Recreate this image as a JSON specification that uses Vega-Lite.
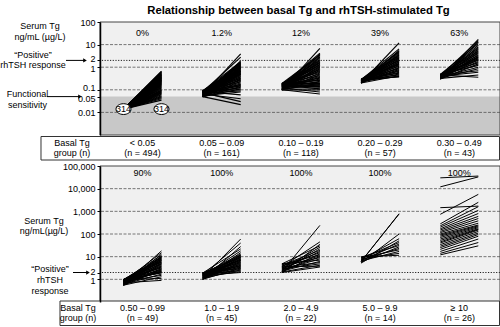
{
"$schema": "https://vega.github.io/schema/vega-lite/v6.json",
"width": 400, "height": 305,
"autosize": {"type": "none"},
"padding": {"left": 100, "top": 22, "right": 0, "bottom": 0},
"config": {"view": {"stroke": null}, "text": {"font": "Liberation Sans", "fontSize": 9, "fill": "#000"}},
"resolve": {"scale": {"y": "independent"}, "axis": {"y": "independent"}},
"datasets": {
"top": [
{"g":0,"b":0.014,"s":0.66},{"g":0,"b":0.014,"s":0.6},{"g":0,"b":0.014,"s":0.55},{"g":0,"b":0.014,"s":0.5},{"g":0,"b":0.014,"s":0.47},{"g":0,"b":0.014,"s":0.44},{"g":0,"b":0.014,"s":0.41},{"g":0,"b":0.014,"s":0.38},{"g":0,"b":0.014,"s":0.36},{"g":0,"b":0.014,"s":0.34},{"g":0,"b":0.014,"s":0.32},{"g":0,"b":0.014,"s":0.3},{"g":0,"b":0.014,"s":0.28},{"g":0,"b":0.014,"s":0.27},{"g":0,"b":0.014,"s":0.25},{"g":0,"b":0.014,"s":0.24},{"g":0,"b":0.014,"s":0.22},{"g":0,"b":0.014,"s":0.21},{"g":0,"b":0.014,"s":0.2},{"g":0,"b":0.014,"s":0.19},{"g":0,"b":0.014,"s":0.18},{"g":0,"b":0.014,"s":0.17},{"g":0,"b":0.014,"s":0.16},{"g":0,"b":0.014,"s":0.15},{"g":0,"b":0.014,"s":0.14},{"g":0,"b":0.014,"s":0.13},{"g":0,"b":0.014,"s":0.12},{"g":0,"b":0.014,"s":0.11},{"g":0,"b":0.014,"s":0.1},{"g":0,"b":0.014,"s":0.095},{"g":0,"b":0.014,"s":0.09},{"g":0,"b":0.014,"s":0.085},{"g":0,"b":0.014,"s":0.08},{"g":0,"b":0.014,"s":0.075},{"g":0,"b":0.014,"s":0.07},{"g":0,"b":0.014,"s":0.065},{"g":0,"b":0.014,"s":0.06},{"g":0,"b":0.014,"s":0.055},{"g":0,"b":0.014,"s":0.05},{"g":0,"b":0.014,"s":0.045},{"g":0,"b":0.014,"s":0.04},{"g":0,"b":0.014,"s":0.035},{"g":0,"b":0.014,"s":0.63},{"g":0,"b":0.014,"s":0.52},{"g":0,"b":0.014,"s":0.45},{"g":0,"b":0.014,"s":0.39},{"g":0,"b":0.014,"s":0.33},{"g":0,"b":0.014,"s":0.29},{"g":0,"b":0.014,"s":0.26},{"g":0,"b":0.014,"s":0.23},
{"g":1,"b":0.06,"s":3.9},{"g":1,"b":0.08,"s":2.8},{"g":1,"b":0.05,"s":1.9},{"g":1,"b":0.09,"s":1.7},{"g":1,"b":0.07,"s":1.55},{"g":1,"b":0.055,"s":1.45},{"g":1,"b":0.085,"s":1.35},{"g":1,"b":0.065,"s":1.25},{"g":1,"b":0.075,"s":1.15},{"g":1,"b":0.05,"s":1.05},{"g":1,"b":0.06,"s":1.0},{"g":1,"b":0.08,"s":0.95},{"g":1,"b":0.05,"s":0.9},{"g":1,"b":0.09,"s":0.85},{"g":1,"b":0.07,"s":0.8},{"g":1,"b":0.055,"s":0.75},{"g":1,"b":0.085,"s":0.7},{"g":1,"b":0.065,"s":0.66},{"g":1,"b":0.075,"s":0.62},{"g":1,"b":0.05,"s":0.58},{"g":1,"b":0.06,"s":0.55},{"g":1,"b":0.08,"s":0.52},{"g":1,"b":0.05,"s":0.49},{"g":1,"b":0.09,"s":0.46},{"g":1,"b":0.07,"s":0.43},{"g":1,"b":0.055,"s":0.4},{"g":1,"b":0.085,"s":0.37},{"g":1,"b":0.065,"s":0.34},{"g":1,"b":0.075,"s":0.32},{"g":1,"b":0.05,"s":0.3},{"g":1,"b":0.06,"s":0.28},{"g":1,"b":0.08,"s":0.26},{"g":1,"b":0.05,"s":0.24},{"g":1,"b":0.09,"s":0.22},{"g":1,"b":0.07,"s":0.2},{"g":1,"b":0.055,"s":0.18},{"g":1,"b":0.085,"s":0.17},{"g":1,"b":0.065,"s":0.16},{"g":1,"b":0.075,"s":0.15},{"g":1,"b":0.05,"s":0.14},{"g":1,"b":0.06,"s":0.13},{"g":1,"b":0.08,"s":0.12},{"g":1,"b":0.05,"s":0.11},{"g":1,"b":0.09,"s":0.1},{"g":1,"b":0.07,"s":0.09},{"g":1,"b":0.055,"s":0.08},{"g":1,"b":0.085,"s":0.06},{"g":1,"b":0.065,"s":0.04},{"g":1,"b":0.075,"s":0.03},{"g":1,"b":0.05,"s":0.022},{"g":1,"b":0.07,"s":1.6},{"g":1,"b":0.06,"s":1.3},{"g":1,"b":0.08,"s":1.1},{"g":1,"b":0.09,"s":0.88},{"g":1,"b":0.055,"s":0.68},{"g":1,"b":0.075,"s":0.5},
{"g":2,"b":0.1,"s":6.8},{"g":2,"b":0.16,"s":4.2},{"g":2,"b":0.1,"s":3.8},{"g":2,"b":0.19,"s":3.4},{"g":2,"b":0.14,"s":3.0},{"g":2,"b":0.11,"s":2.6},{"g":2,"b":0.17,"s":2.2},{"g":2,"b":0.13,"s":1.9},{"g":2,"b":0.15,"s":1.7},{"g":2,"b":0.18,"s":1.5},{"g":2,"b":0.12,"s":1.35},{"g":2,"b":0.16,"s":1.2},{"g":2,"b":0.1,"s":1.1},{"g":2,"b":0.19,"s":1.0},{"g":2,"b":0.14,"s":0.92},{"g":2,"b":0.11,"s":0.85},{"g":2,"b":0.17,"s":0.78},{"g":2,"b":0.13,"s":0.72},{"g":2,"b":0.15,"s":0.66},{"g":2,"b":0.18,"s":0.6},{"g":2,"b":0.12,"s":0.55},{"g":2,"b":0.16,"s":0.5},{"g":2,"b":0.1,"s":0.46},{"g":2,"b":0.19,"s":0.42},{"g":2,"b":0.14,"s":0.39},{"g":2,"b":0.11,"s":0.36},{"g":2,"b":0.17,"s":0.33},{"g":2,"b":0.13,"s":0.3},{"g":2,"b":0.15,"s":0.28},{"g":2,"b":0.18,"s":0.26},{"g":2,"b":0.12,"s":0.24},{"g":2,"b":0.16,"s":0.22},{"g":2,"b":0.1,"s":0.2},{"g":2,"b":0.19,"s":0.19},{"g":2,"b":0.14,"s":0.18},{"g":2,"b":0.11,"s":0.17},{"g":2,"b":0.17,"s":0.16},{"g":2,"b":0.13,"s":0.15},{"g":2,"b":0.15,"s":0.14},{"g":2,"b":0.18,"s":0.13},{"g":2,"b":0.12,"s":0.12},{"g":2,"b":0.16,"s":0.11},{"g":2,"b":0.1,"s":0.1},{"g":2,"b":0.12,"s":0.08},{"g":2,"b":0.1,"s":0.065},{"g":2,"b":0.15,"s":3.6},{"g":2,"b":0.11,"s":2.8},{"g":2,"b":0.18,"s":2.0},{"g":2,"b":0.13,"s":1.6},{"g":2,"b":0.17,"s":1.28},
{"g":3,"b":0.2,"s":12},{"g":3,"b":0.27,"s":6.5},{"g":3,"b":0.2,"s":5.5},{"g":3,"b":0.25,"s":5.0},{"g":3,"b":0.29,"s":4.6},{"g":3,"b":0.23,"s":4.2},{"g":3,"b":0.21,"s":3.8},{"g":3,"b":0.26,"s":3.5},{"g":3,"b":0.24,"s":3.2},{"g":3,"b":0.28,"s":2.9},{"g":3,"b":0.22,"s":2.7},{"g":3,"b":0.27,"s":2.5},{"g":3,"b":0.2,"s":2.3},{"g":3,"b":0.25,"s":2.1},{"g":3,"b":0.29,"s":1.95},{"g":3,"b":0.23,"s":1.8},{"g":3,"b":0.21,"s":1.65},{"g":3,"b":0.26,"s":1.5},{"g":3,"b":0.24,"s":1.4},{"g":3,"b":0.28,"s":1.3},{"g":3,"b":0.22,"s":1.2},{"g":3,"b":0.27,"s":1.1},{"g":3,"b":0.2,"s":1.0},{"g":3,"b":0.25,"s":0.92},{"g":3,"b":0.29,"s":0.85},{"g":3,"b":0.23,"s":0.78},{"g":3,"b":0.21,"s":0.72},{"g":3,"b":0.26,"s":0.66},{"g":3,"b":0.24,"s":0.6},{"g":3,"b":0.28,"s":0.55},{"g":3,"b":0.22,"s":0.5},{"g":3,"b":0.27,"s":0.46},{"g":3,"b":0.2,"s":0.42},{"g":3,"b":0.25,"s":0.39},{"g":3,"b":0.29,"s":0.37},
{"g":4,"b":0.3,"s":17},{"g":4,"b":0.42,"s":15},{"g":4,"b":0.3,"s":13},{"g":4,"b":0.48,"s":11},{"g":4,"b":0.38,"s":9.5},{"g":4,"b":0.33,"s":8},{"g":4,"b":0.45,"s":7},{"g":4,"b":0.4,"s":6.2},{"g":4,"b":0.32,"s":5.5},{"g":4,"b":0.46,"s":5},{"g":4,"b":0.35,"s":4.5},{"g":4,"b":0.42,"s":4},{"g":4,"b":0.3,"s":3.6},{"g":4,"b":0.48,"s":3.3},{"g":4,"b":0.38,"s":3},{"g":4,"b":0.33,"s":2.8},{"g":4,"b":0.45,"s":2.6},{"g":4,"b":0.4,"s":2.4},{"g":4,"b":0.32,"s":2.2},{"g":4,"b":0.46,"s":2.05},{"g":4,"b":0.35,"s":1.8},{"g":4,"b":0.42,"s":1.6},{"g":4,"b":0.3,"s":1.4},{"g":4,"b":0.48,"s":1.2},{"g":4,"b":0.38,"s":1.0},{"g":4,"b":0.33,"s":0.85},{"g":4,"b":0.45,"s":0.7},{"g":4,"b":0.4,"s":0.6},{"g":4,"b":0.32,"s":0.45},{"g":4,"b":0.46,"s":0.36}
],
"bottom": [
{"g":0,"b":0.6,"s":18},{"g":0,"b":0.8,"s":15},{"g":0,"b":0.55,"s":13},{"g":0,"b":0.95,"s":11.5},{"g":0,"b":0.7,"s":10.5},{"g":0,"b":0.65,"s":10},{"g":0,"b":0.9,"s":9.8},{"g":0,"b":0.75,"s":9.5},{"g":0,"b":0.85,"s":9},{"g":0,"b":0.99,"s":8.8},{"g":0,"b":0.6,"s":8.5},{"g":0,"b":0.8,"s":8},{"g":0,"b":0.55,"s":7.8},{"g":0,"b":0.95,"s":7.5},{"g":0,"b":0.7,"s":7},{"g":0,"b":0.65,"s":6.8},{"g":0,"b":0.9,"s":6.6},{"g":0,"b":0.75,"s":6.2},{"g":0,"b":0.85,"s":5.8},{"g":0,"b":0.99,"s":5.6},{"g":0,"b":0.6,"s":5.4},{"g":0,"b":0.8,"s":5},{"g":0,"b":0.55,"s":4.8},{"g":0,"b":0.95,"s":4.7},{"g":0,"b":0.7,"s":4.4},{"g":0,"b":0.65,"s":4.1},{"g":0,"b":0.9,"s":3.8},{"g":0,"b":0.75,"s":3.6},{"g":0,"b":0.85,"s":3.4},{"g":0,"b":0.99,"s":3.2},{"g":0,"b":0.6,"s":3},{"g":0,"b":0.8,"s":2.85},{"g":0,"b":0.55,"s":2.7},{"g":0,"b":0.95,"s":2.55},{"g":0,"b":0.7,"s":2.4},{"g":0,"b":0.65,"s":2.3},{"g":0,"b":0.9,"s":2.2},{"g":0,"b":0.75,"s":2.1},{"g":0,"b":0.85,"s":2},{"g":0,"b":0.99,"s":1.9},{"g":0,"b":0.6,"s":1.7},{"g":0,"b":0.8,"s":1.5},{"g":0,"b":0.55,"s":1.3},{"g":0,"b":0.95,"s":1.1},{"g":0,"b":0.7,"s":0.9},
{"g":1,"b":1.2,"s":60},{"g":1,"b":1.6,"s":40},{"g":1,"b":1.0,"s":28},{"g":1,"b":1.9,"s":22},{"g":1,"b":1.4,"s":18},{"g":1,"b":1.1,"s":15},{"g":1,"b":1.7,"s":13},{"g":1,"b":1.3,"s":12},{"g":1,"b":1.5,"s":11.5},{"g":1,"b":1.8,"s":11},{"g":1,"b":1.2,"s":10.5},{"g":1,"b":1.6,"s":10},{"g":1,"b":1.0,"s":9.5},{"g":1,"b":1.9,"s":9},{"g":1,"b":1.4,"s":8.5},{"g":1,"b":1.1,"s":8},{"g":1,"b":1.7,"s":7.6},{"g":1,"b":1.3,"s":7.2},{"g":1,"b":1.5,"s":7},{"g":1,"b":1.8,"s":6.8},{"g":1,"b":1.2,"s":6.4},{"g":1,"b":1.6,"s":6},{"g":1,"b":1.0,"s":5.7},{"g":1,"b":1.9,"s":5.4},{"g":1,"b":1.4,"s":5.1},{"g":1,"b":1.1,"s":4.8},{"g":1,"b":1.7,"s":4.5},{"g":1,"b":1.3,"s":4.2},{"g":1,"b":1.5,"s":4},{"g":1,"b":1.8,"s":3.8},{"g":1,"b":1.2,"s":3.6},{"g":1,"b":1.6,"s":3.4},{"g":1,"b":1.0,"s":3.2},{"g":1,"b":1.9,"s":3},{"g":1,"b":1.4,"s":2.8},{"g":1,"b":1.1,"s":2.6},{"g":1,"b":1.7,"s":2.4},{"g":1,"b":1.3,"s":2.2},{"g":1,"b":1.5,"s":2},{"g":1,"b":1.8,"s":9.2},
{"g":2,"b":2.2,"s":240},{"g":2,"b":3.5,"s":45},{"g":2,"b":2.0,"s":35},{"g":2,"b":4.8,"s":30},{"g":2,"b":3.0,"s":26},{"g":2,"b":2.5,"s":22},{"g":2,"b":4.2,"s":19},{"g":2,"b":2.8,"s":17},{"g":2,"b":3.8,"s":15},{"g":2,"b":2.1,"s":13.5},{"g":2,"b":4.5,"s":12},{"g":2,"b":3.2,"s":11},{"g":2,"b":2.4,"s":10},{"g":2,"b":3.9,"s":9},{"g":2,"b":2.6,"s":8},{"g":2,"b":4.9,"s":7},{"g":2,"b":2.3,"s":6.2},{"g":2,"b":3.4,"s":5.5},{"g":2,"b":2.9,"s":4.8},{"g":2,"b":2.1,"s":4.2},{"g":2,"b":3.6,"s":3.8},{"g":2,"b":2.0,"s":3.5},
{"g":3,"b":6.0,"s":790},{"g":3,"b":6.2,"s":760},{"g":3,"b":5.5,"s":100},{"g":3,"b":7.5,"s":62},{"g":3,"b":5.2,"s":50},{"g":3,"b":8.5,"s":42},{"g":3,"b":6.8,"s":36},{"g":3,"b":9.5,"s":31},{"g":3,"b":5.8,"s":27},{"g":3,"b":7.2,"s":23},{"g":3,"b":9.0,"s":20},{"g":3,"b":6.5,"s":17},{"g":3,"b":8.0,"s":14},{"g":3,"b":9.9,"s":11.5},
{"g":4,"b":12000,"s":33000},{"g":4,"b":30000,"s":36000},{"g":4,"b":740,"s":5600},{"g":4,"b":1450,"s":1700},{"g":4,"b":280,"s":2500},{"g":4,"b":230,"s":1600},{"g":4,"b":200,"s":1100},{"g":4,"b":170,"s":800},{"g":4,"b":150,"s":600},{"g":4,"b":130,"s":480},{"g":4,"b":115,"s":380},{"g":4,"b":100,"s":300},{"g":4,"b":90,"s":250},{"g":4,"b":80,"s":230},{"g":4,"b":70,"s":210},{"g":4,"b":60,"s":190},{"g":4,"b":52,"s":170},{"g":4,"b":45,"s":160},{"g":4,"b":40,"s":150},{"g":4,"b":34,"s":130},{"g":4,"b":29,"s":110},{"g":4,"b":25,"s":95},{"g":4,"b":21,"s":80},{"g":4,"b":17,"s":60},{"g":4,"b":14,"s":42},{"g":4,"b":12,"s":30}
],
"groupsTop": [
{"g":0,"pct":"0%","range":"< 0.05","n":"(n = 494)"},
{"g":1,"pct":"1.2%","range":"0.05 – 0.09","n":"(n = 161)"},
{"g":2,"pct":"12%","range":"0.10 – 0.19","n":"(n = 118)"},
{"g":3,"pct":"39%","range":"0.20 – 0.29","n":"(n = 57)"},
{"g":4,"pct":"63%","range":"0.30 – 0.49","n":"(n = 43)"}
],
"groupsBottom": [
{"g":0,"pct":"90%","range":"0.50 – 0.99","n":"(n = 49)"},
{"g":1,"pct":"100%","range":"1.0 – 1.9","n":"(n = 45)"},
{"g":2,"pct":"100%","range":"2.0 – 4.9","n":"(n = 22)"},
{"g":3,"pct":"100%","range":"5.0 – 9.9","n":"(n = 14)"},
{"g":4,"pct":"100%","range":"≥ 10","n":"(n = 26)"}
],
"undetectable": [{"g":0,"b":0.014,"s":0.014,"count":"314"}]
},
"layer": [
{"data":{"values":[{}]},"mark":{"type":"rect","fill":"#f0f0f0"},
 "encoding":{"x":{"datum":-0.2967,"type":"quantitative","scale":{"domain":[-0.2967,4.7538],"nice":false,"zero":false},"axis":null},"x2":{"datum":4.7538},
 "y":{"datum":100,"type":"quantitative","scale":{"type":"log","domain":[0.001,100],"range":[113,0]},"axis":null},"y2":{"datum":0.001}}},
{"data":{"values":[{}]},"mark":{"type":"rect","fill":"#c8c8c8"},
 "encoding":{"x":{"datum":-0.2967,"type":"quantitative","scale":{"domain":[-0.2967,4.7538],"nice":false,"zero":false},"axis":null},"x2":{"datum":4.7538},
 "y":{"datum":0.05,"type":"quantitative","scale":{"type":"log","domain":[0.001,100],"range":[113,0]},"axis":null},"y2":{"datum":0.001}}},
{"data":{"values":[{"v":10},{"v":1},{"v":0.1},{"v":0.01}]},"mark":{"type":"rule","stroke":"#555","strokeWidth":0.8,"strokeDash":[3,1.5]},
 "encoding":{"y":{"field":"v","type":"quantitative","scale":{"type":"log","domain":[0.001,100],"range":[113,0]},"axis":null}}},
{"data":{"values":[{"v":2}]},"mark":{"type":"rule","stroke":"#222","strokeWidth":1,"strokeDash":[1.2,1.5]},
 "encoding":{"y":{"field":"v","type":"quantitative","scale":{"type":"log","domain":[0.001,100],"range":[113,0]},"axis":null}}},
{"data":{"name":"top"},"mark":{"type":"rule","stroke":"#000","strokeWidth":1.15,"x2Offset":38},
 "encoding":{"x":{"field":"g","type":"quantitative","scale":{"domain":[-0.2967,4.7538],"nice":false,"zero":false},"axis":null},"x2":{"field":"g"},
 "y":{"field":"b","type":"quantitative","scale":{"type":"log","domain":[0.001,100],"range":[113,0]},"axis":null},"y2":{"field":"s"}}},
{"data":{"name":"undetectable"},"mark":{"type":"point","shape":"M-1,0A1,0.72,0,1,1,1,0A1,0.72,0,1,1,-1,0Z","size":225,"filled":true,"fill":"#fff","stroke":"#000","strokeWidth":1,"opacity":1},
 "encoding":{"x":{"field":"g","type":"quantitative","scale":{"domain":[-0.2967,4.7538],"nice":false,"zero":false},"axis":null},
 "y":{"field":"b","type":"quantitative","scale":{"type":"log","domain":[0.001,100],"range":[113,0]},"axis":null}}},
{"data":{"name":"undetectable"},"mark":{"type":"point","shape":"M-1,0A1,0.72,0,1,1,1,0A1,0.72,0,1,1,-1,0Z","size":225,"filled":true,"fill":"#fff","stroke":"#000","strokeWidth":1,"opacity":1,"xOffset":38},
 "encoding":{"x":{"field":"g","type":"quantitative","scale":{"domain":[-0.2967,4.7538],"nice":false,"zero":false},"axis":null},
 "y":{"field":"s","type":"quantitative","scale":{"type":"log","domain":[0.001,100],"range":[113,0]},"axis":null}}},
{"data":{"name":"undetectable"},"mark":{"type":"text","align":"center","baseline":"middle","fontSize":9},
 "encoding":{"text":{"field":"count"},"x":{"field":"g","type":"quantitative","scale":{"domain":[-0.2967,4.7538],"nice":false,"zero":false},"axis":null},
 "y":{"field":"b","type":"quantitative","scale":{"type":"log","domain":[0.001,100],"range":[113,0]},"axis":null}}},
{"data":{"name":"undetectable"},"mark":{"type":"text","align":"center","baseline":"middle","fontSize":9,"dx":38},
 "encoding":{"text":{"field":"count"},"x":{"field":"g","type":"quantitative","scale":{"domain":[-0.2967,4.7538],"nice":false,"zero":false},"axis":null},
 "y":{"field":"s","type":"quantitative","scale":{"type":"log","domain":[0.001,100],"range":[113,0]},"axis":null}}},
{"data":{"name":"groupsTop"},"mark":{"type":"text","align":"center","baseline":"middle","dx":19},
 "encoding":{"text":{"field":"pct"},"x":{"field":"g","type":"quantitative","scale":{"domain":[-0.2967,4.7538],"nice":false,"zero":false},"axis":null},
 "y":{"datum":32,"type":"quantitative","scale":{"type":"log","domain":[0.001,100],"range":[113,0]},"axis":null}}},
{"data":{"values":[{}]},"mark":{"type":"rect","filled":false,"stroke":"#444","strokeWidth":1},
 "encoding":{"x":{"datum":-0.2967,"type":"quantitative","scale":{"domain":[-0.2967,4.7538],"nice":false,"zero":false},"axis":null},"x2":{"datum":4.7538},
 "y":{"datum":100,"type":"quantitative","scale":{"type":"log","domain":[0.001,100],"range":[113,0]},
  "axis":{"orient":"left","values":[100,10,2,1,0.1,0.05,0.01],"format":"~g","grid":false,"title":null,"labelFont":"Liberation Sans","labelFontSize":9,"labelColor":"#000","tickColor":"#000","tickSize":3,"domainColor":"#000","domainWidth":1.5,"labelPadding":2,"zindex":1,"labelOverlap":false,"labelBound":false,"labelFlush":false,
   "labelOffset":{"condition":[{"test":"datum.value == 0.1","value":-2},{"test":"datum.value == 0.05","value":1.5},{"test":"datum.value == 2","value":-1.6},{"test":"datum.value == 1","value":0.8}],"value":0}}},
 "y2":{"datum":0.001}}},
{"data":{"values":[{}]},"mark":{"type":"rect","fill":"#fff","stroke":"#333","strokeWidth":1},
 "encoding":{"x":{"datum":-1.0417,"type":"quantitative","scale":{"domain":[-0.2967,4.7538],"nice":false,"zero":false},"axis":null},"x2":{"datum":4.7475},
 "y":{"datum":0,"type":"quantitative","scale":{"domain":[0,1],"range":[114.5,138],"nice":false,"zero":false},"axis":null},"y2":{"datum":1}}},
{"data":{"values":[{}]},"mark":{"type":"text","text":"Basal Tg","align":"center","baseline":"middle"},
 "encoding":{"x":{"datum":-0.65,"type":"quantitative","scale":{"domain":[-0.2967,4.7538],"nice":false,"zero":false},"axis":null},
 "y":{"datum":0.28,"type":"quantitative","scale":{"domain":[0,1],"range":[114.5,138],"nice":false,"zero":false},"axis":null}}},
{"data":{"values":[{}]},"mark":{"type":"text","text":"group (n)","align":"center","baseline":"middle"},
 "encoding":{"x":{"datum":-0.65,"type":"quantitative","scale":{"domain":[-0.2967,4.7538],"nice":false,"zero":false},"axis":null},
 "y":{"datum":0.7,"type":"quantitative","scale":{"domain":[0,1],"range":[114.5,138],"nice":false,"zero":false},"axis":null}}},
{"data":{"name":"groupsTop"},"mark":{"type":"text","align":"center","baseline":"middle","dx":19},
 "encoding":{"text":{"field":"range"},"x":{"field":"g","type":"quantitative","scale":{"domain":[-0.2967,4.7538],"nice":false,"zero":false},"axis":null},
 "y":{"datum":0.28,"type":"quantitative","scale":{"domain":[0,1],"range":[114.5,138],"nice":false,"zero":false},"axis":null}}},
{"data":{"name":"groupsTop"},"mark":{"type":"text","align":"center","baseline":"middle","dx":19},
 "encoding":{"text":{"field":"n"},"x":{"field":"g","type":"quantitative","scale":{"domain":[-0.2967,4.7538],"nice":false,"zero":false},"axis":null},
 "y":{"datum":0.7,"type":"quantitative","scale":{"domain":[0,1],"range":[114.5,138],"nice":false,"zero":false},"axis":null}}},
{"data":{"values":[{}]},"mark":{"type":"rect","fill":"#f0f0f0"},
 "encoding":{"x":{"datum":-0.2967,"type":"quantitative","scale":{"domain":[-0.2967,4.7538],"nice":false,"zero":false},"axis":null},"x2":{"datum":4.7538},
 "y":{"datum":100000,"type":"quantitative","scale":{"type":"log","domain":[0.1,100000],"range":[280,144]},"axis":null},"y2":{"datum":0.1}}},
{"data":{"values":[{"v":10000},{"v":1000},{"v":100},{"v":10},{"v":1}]},"mark":{"type":"rule","stroke":"#555","strokeWidth":0.8,"strokeDash":[3,1.5]},
 "encoding":{"y":{"field":"v","type":"quantitative","scale":{"type":"log","domain":[0.1,100000],"range":[280,144]},"axis":null}}},
{"data":{"values":[{"v":2}]},"mark":{"type":"rule","stroke":"#222","strokeWidth":1,"strokeDash":[1.2,1.5]},
 "encoding":{"y":{"field":"v","type":"quantitative","scale":{"type":"log","domain":[0.1,100000],"range":[280,144]},"axis":null}}},
{"data":{"name":"bottom"},"mark":{"type":"rule","stroke":"#000","strokeWidth":1,"x2Offset":38},
 "encoding":{"x":{"field":"g","type":"quantitative","scale":{"domain":[-0.2967,4.7538],"nice":false,"zero":false},"axis":null},"x2":{"field":"g"},
 "y":{"field":"b","type":"quantitative","scale":{"type":"log","domain":[0.1,100000],"range":[280,144]},"axis":null},"y2":{"field":"s"}}},
{"data":{"name":"groupsBottom"},"mark":{"type":"text","align":"center","baseline":"middle","dx":19},
 "encoding":{"text":{"field":"pct"},"x":{"field":"g","type":"quantitative","scale":{"domain":[-0.2967,4.7538],"nice":false,"zero":false},"axis":null},
 "y":{"datum":50000,"type":"quantitative","scale":{"type":"log","domain":[0.1,100000],"range":[280,144]},"axis":null}}},
{"data":{"values":[{}]},"mark":{"type":"rect","filled":false,"stroke":"#444","strokeWidth":1},
 "encoding":{"x":{"datum":-0.2967,"type":"quantitative","scale":{"domain":[-0.2967,4.7538],"nice":false,"zero":false},"axis":null},"x2":{"datum":4.7538},
 "y":{"datum":100000,"type":"quantitative","scale":{"type":"log","domain":[0.1,100000],"range":[280,144]},
  "axis":{"orient":"left","values":[100000,10000,1000,100,10,2,1],"format":",~g","grid":false,"title":null,"labelFont":"Liberation Sans","labelFontSize":9,"labelColor":"#000","tickColor":"#000","tickSize":3,"domainColor":"#000","domainWidth":1.5,"labelPadding":2,"zindex":1,"labelOverlap":false,"labelBound":false,"labelFlush":false,
   "labelOffset":{"condition":[{"test":"datum.value == 2","value":-1.4},{"test":"datum.value == 1","value":0.8}],"value":0}}},
 "y2":{"datum":0.1}}},
{"data":{"values":[{}]},"mark":{"type":"rect","fill":"#fff","stroke":"#333","strokeWidth":1},
 "encoding":{"x":{"datum":-0.8018,"type":"quantitative","scale":{"domain":[-0.2967,4.7538],"nice":false,"zero":false},"axis":null},"x2":{"datum":4.7475},
 "y":{"datum":0,"type":"quantitative","scale":{"domain":[0,1],"range":[279,303.5],"nice":false,"zero":false},"axis":null},"y2":{"datum":1}}},
{"data":{"values":[{}]},"mark":{"type":"text","text":"Basal Tg","align":"center","baseline":"middle"},
 "encoding":{"x":{"datum":-0.575,"type":"quantitative","scale":{"domain":[-0.2967,4.7538],"nice":false,"zero":false},"axis":null},
 "y":{"datum":0.3,"type":"quantitative","scale":{"domain":[0,1],"range":[279,303.5],"nice":false,"zero":false},"axis":null}}},
{"data":{"values":[{}]},"mark":{"type":"text","text":"group (n)","align":"center","baseline":"middle"},
 "encoding":{"x":{"datum":-0.575,"type":"quantitative","scale":{"domain":[-0.2967,4.7538],"nice":false,"zero":false},"axis":null},
 "y":{"datum":0.71,"type":"quantitative","scale":{"domain":[0,1],"range":[279,303.5],"nice":false,"zero":false},"axis":null}}},
{"data":{"name":"groupsBottom"},"mark":{"type":"text","align":"center","baseline":"middle","dx":19},
 "encoding":{"text":{"field":"range"},"x":{"field":"g","type":"quantitative","scale":{"domain":[-0.2967,4.7538],"nice":false,"zero":false},"axis":null},
 "y":{"datum":0.3,"type":"quantitative","scale":{"domain":[0,1],"range":[279,303.5],"nice":false,"zero":false},"axis":null}}},
{"data":{"name":"groupsBottom"},"mark":{"type":"text","align":"center","baseline":"middle","dx":19},
 "encoding":{"text":{"field":"n"},"x":{"field":"g","type":"quantitative","scale":{"domain":[-0.2967,4.7538],"nice":false,"zero":false},"axis":null},
 "y":{"datum":0.71,"type":"quantitative","scale":{"domain":[0,1],"range":[279,303.5],"nice":false,"zero":false},"axis":null}}},
{"data":{"values":[{}]},"mark":{"type":"text","text":"Relationship between basal Tg and rhTSH-stimulated Tg","align":"center","baseline":"alphabetic","fontSize":11.3,"fontWeight":"bold"},
 "encoding":{"x":{"datum":2.2096,"type":"quantitative","scale":{"domain":[-0.2967,4.7538],"nice":false,"zero":false},"axis":null},
 "y":{"datum":226,"type":"quantitative","scale":{"type":"log","domain":[0.001,100],"range":[113,0]},"axis":null}}},
{"data":{"values":[{}]},"mark":{"type":"text","text":["Serum Tg","ng/mL (µg/L)"],"align":"center","baseline":"top","lineHeight":10.7},
 "encoding":{"x":{"datum":-1.0543,"type":"quantitative","scale":{"domain":[-0.2967,4.7538],"nice":false,"zero":false},"axis":null},
 "y":{"datum":100,"type":"quantitative","scale":{"type":"log","domain":[0.001,100],"range":[113,0]},"axis":null}}},
{"data":{"values":[{}]},"mark":{"type":"text","text":["“Positive”","rhTSH response"],"align":"center","baseline":"top","lineHeight":10,"dy":-9.2},
 "encoding":{"x":{"datum":-1.1427,"type":"quantitative","scale":{"domain":[-0.2967,4.7538],"nice":false,"zero":false},"axis":null},
 "y":{"datum":2,"type":"quantitative","scale":{"type":"log","domain":[0.001,100],"range":[113,0]},"axis":null}}},
{"data":{"values":[{}]},"mark":{"type":"rule","stroke":"#000","strokeWidth":1},
 "encoding":{"x":{"datum":-0.726,"type":"quantitative","scale":{"domain":[-0.2967,4.7538],"nice":false,"zero":false},"axis":null},"x2":{"datum":-0.4861},
 "y":{"datum":2,"type":"quantitative","scale":{"type":"log","domain":[0.001,100],"range":[113,0]},"axis":null}}},
{"data":{"values":[{}]},"mark":{"type":"point","shape":"triangle-right","filled":true,"color":"#000","size":18,"opacity":1},
 "encoding":{"x":{"datum":-0.4861,"type":"quantitative","scale":{"domain":[-0.2967,4.7538],"nice":false,"zero":false},"axis":null},
 "y":{"datum":2,"type":"quantitative","scale":{"type":"log","domain":[0.001,100],"range":[113,0]},"axis":null}}},
{"data":{"values":[{}]},"mark":{"type":"text","text":["Functional","sensitivity"],"align":"center","baseline":"top","lineHeight":11.7,"dy":-7.1},
 "encoding":{"x":{"datum":-1.2121,"type":"quantitative","scale":{"domain":[-0.2967,4.7538],"nice":false,"zero":false},"axis":null},
 "y":{"datum":0.05,"type":"quantitative","scale":{"type":"log","domain":[0.001,100],"range":[113,0]},"axis":null}}},
{"data":{"values":[{}]},"mark":{"type":"rule","stroke":"#000","strokeWidth":1},
 "encoding":{"x":{"datum":-0.9659,"type":"quantitative","scale":{"domain":[-0.2967,4.7538],"nice":false,"zero":false},"axis":null},"x2":{"datum":-0.5492},
 "y":{"datum":0.05,"type":"quantitative","scale":{"type":"log","domain":[0.001,100],"range":[113,0]},"axis":null}}},
{"data":{"values":[{}]},"mark":{"type":"point","shape":"triangle-right","filled":true,"color":"#000","size":18,"opacity":1},
 "encoding":{"x":{"datum":-0.5492,"type":"quantitative","scale":{"domain":[-0.2967,4.7538],"nice":false,"zero":false},"axis":null},
 "y":{"datum":0.05,"type":"quantitative","scale":{"type":"log","domain":[0.001,100],"range":[113,0]},"axis":null}}},
{"data":{"values":[{}]},"mark":{"type":"text","text":["Serum Tg","ng/mL(µg/L)"],"align":"center","baseline":"top","lineHeight":9.7,"dy":5.9},
 "encoding":{"x":{"datum":-1.0038,"type":"quantitative","scale":{"domain":[-0.2967,4.7538],"nice":false,"zero":false},"axis":null},
 "y":{"datum":1000,"type":"quantitative","scale":{"type":"log","domain":[0.1,100000],"range":[280,144]},"axis":null}}},
{"data":{"values":[{}]},"mark":{"type":"text","text":["“Positive”","rhTSH","response"],"align":"center","baseline":"top","lineHeight":11,"dy":-7.3},
 "encoding":{"x":{"datum":-0.928,"type":"quantitative","scale":{"domain":[-0.2967,4.7538],"nice":false,"zero":false},"axis":null},
 "y":{"datum":2,"type":"quantitative","scale":{"type":"log","domain":[0.1,100000],"range":[280,144]},"axis":null}}},
{"data":{"values":[{}]},"mark":{"type":"rule","stroke":"#000","strokeWidth":1},
 "encoding":{"x":{"datum":-0.6376,"type":"quantitative","scale":{"domain":[-0.2967,4.7538],"nice":false,"zero":false},"axis":null},"x2":{"datum":-0.4482},
 "y":{"datum":2,"type":"quantitative","scale":{"type":"log","domain":[0.1,100000],"range":[280,144]},"axis":null}}},
{"data":{"values":[{}]},"mark":{"type":"point","shape":"triangle-right","filled":true,"color":"#000","size":18,"opacity":1},
 "encoding":{"x":{"datum":-0.4482,"type":"quantitative","scale":{"domain":[-0.2967,4.7538],"nice":false,"zero":false},"axis":null},
 "y":{"datum":2,"type":"quantitative","scale":{"type":"log","domain":[0.1,100000],"range":[280,144]},"axis":null}}}
]
}
